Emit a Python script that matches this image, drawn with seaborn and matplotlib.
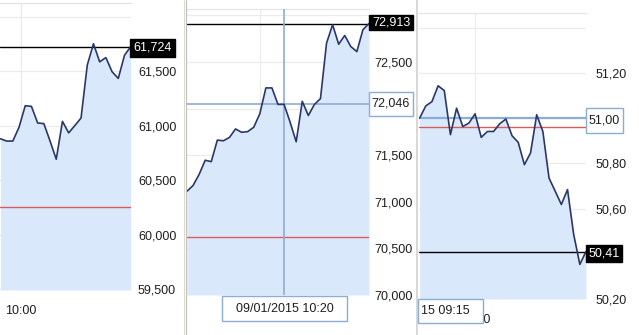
import numpy as np
import pandas as pd
import seaborn as sns
import matplotlib
matplotlib.use("Agg")
import matplotlib.pyplot as plt
from matplotlib.patches import Rectangle
from matplotlib.lines import Line2D

# ---------------- data ----------------
# Panel 1 (cropped chart, left)
p1_values = [60879, 60858, 60858, 60985, 61182, 61176, 61024, 61018, 60858, 60691,
             61039, 60933, 61000, 61070, 61555, 61751, 61585, 61624, 61494, 61433,
             61645, 61724]
p1_last = 61724
p1_ref = 60252
p1_yticks = [59500, 60000, 60500, 61000, 61500, 62000]
p1_ytick_labels = ["59,500", "60,000", "60,500", "61,000", "61,500", ""]
p1_xtick_labels = ["10:00"]
p1_last_label = "61,724"

# Panel 2 (middle)
p2_values = [71114, 71175, 71294, 71446, 71431, 71662, 71655, 71691, 71782, 71746,
             71753, 71800, 71944, 72222, 72222, 72045, 72046, 71854, 71644, 72078,
             71926, 72045, 72107, 72702, 72901, 72691, 72785, 72666, 72612, 72847,
             72913]
p2_last = 72913
p2_ref = 70618
p2_cross = 72046
p2_yticks = [70000, 70500, 71000, 71500, 72000, 72500, 73000]
p2_ytick_labels = ["70,000", "70,500", "71,000", "71,500", "", "72,500", ""]
p2_xtick_labels = [""]
p2_last_label = "72,913"
p2_cross_label = "72,046"
p2_date_label = "09/01/2015 10:20"

# Panel 3 (right)
p3_values = [51.00, 51.054, 51.073, 51.143, 51.122, 50.927, 51.044, 50.963, 50.978,
             51.019, 50.915, 50.941, 50.941, 50.975, 50.996, 50.922, 50.893, 50.794,
             50.846, 51.015, 50.941, 50.735, 50.677, 50.618, 50.684, 50.486, 50.353,
             50.41]
p3_last = 50.41
p3_ref = 50.96
p3_cross = 51.00
p3_yticks = [50.20, 50.40, 50.60, 50.80, 51.00, 51.20, 51.40]
p3_ytick_labels = ["50,20", "", "50,60", "50,80", "", "51,20", ""]
p3_xtick_labels = ["10:00"]
p3_last_label = "50,41"
p3_cross_label = "51,00"
p3_date_label = "15 09:15"

# ---------------- style ----------------
W, H = 639, 335
sns.set_style("white")
plt.rcParams["font.family"] = ["Liberation Sans", "DejaVu Sans"]

LINE = "#2a3768"
FILL = "#dae8fb"
RED = "#dc5a5a"
GRID = "#ebebeb"
CROSS = "#8cadd6"
TXT = "#1e1e1e"

fig = plt.figure(figsize=(W / 100, H / 100), dpi=100)
fig.patch.set_facecolor("white")


def add_ax(left, top, right, bottom):
    return fig.add_axes([left / W, 1 - bottom / H, (right - left) / W, (bottom - top) / H])


def fig_rect(x0, y0, x1, y1, fc, ec, lw=1.0):
    r = Rectangle((x0 / W, 1 - y1 / H), (x1 - x0) / W, (y1 - y0) / H,
                  transform=fig.transFigure, facecolor=fc, edgecolor=ec,
                  linewidth=lw, zorder=10)
    fig.add_artist(r)


def fig_text(x, y, s, color, ha="center"):
    fig.text(x / W, 1 - y / H, s, color=color, ha=ha, va="center",
             fontsize=9, zorder=11)


def draw_panel(ax, values, ylim, xlim, yticks, ylabels, xtick_pos, xlabels,
               last, ref, pad, cross_y=None, cross_x=None, cross_lw=1.2):
    df = pd.DataFrame({"i": np.arange(len(values)), "v": values})
    ax.set_facecolor("white")
    ax.fill_between(df["i"], df["v"], ylim[0], color=FILL, lw=0, zorder=1)
    sns.lineplot(data=df, x="i", y="v", ax=ax, color=LINE, lw=1.2, zorder=5)
    ax.set_ylim(*ylim)
    ax.set_xlim(*xlim)
    ax.set_yticks(yticks)
    ax.set_yticklabels(ylabels)
    ax.set_xticks(xtick_pos)
    ax.set_xticklabels(xlabels)
    ax.yaxis.tick_right()
    ax.tick_params(axis="y", length=0, pad=pad, labelsize=9, labelcolor=TXT)
    ax.tick_params(axis="x", length=0, pad=11, labelsize=9, labelcolor=TXT)
    ax.grid(True, color=GRID, lw=0.9, zorder=0)
    ax.set_axisbelow(True)
    ax.set_xlabel("")
    ax.set_ylabel("")
    for s in ["left", "right", "bottom"]:
        ax.spines[s].set_visible(False)
    ax.spines["top"].set_color("#e4e4e4")
    ax.spines["top"].set_linewidth(0.9)
    ax.axhline(ref, color=RED, lw=1.0, zorder=4)
    ax.axhline(last, color="black", lw=1.0, zorder=4)
    if cross_y is not None:
        ax.axhline(cross_y, color=CROSS, lw=cross_lw, zorder=4)
    if cross_x is not None:
        ax.axvline(cross_x, color=CROSS, lw=1.2, zorder=4)


# Panel 1
ax1 = add_ax(0, 3, 131, 290)
draw_panel(ax1, p1_values, (59491, 62125), (-0.07, 21.05), p1_yticks, p1_ytick_labels,
           [3.3], p1_xtick_labels, p1_last, p1_ref, pad=5)

# Panel 2
ax2 = add_ax(187, 9, 369, 295)
draw_panel(ax2, p2_values, (70000, 73069), (0, 30), p2_yticks, p2_ytick_labels,
           [12], p2_xtick_labels, p2_last, p2_ref, pad=4, cross_y=p2_cross, cross_x=16)

# Panel 3
ax3 = add_ax(419, 13, 586, 299)
draw_panel(ax3, p3_values, (50.20, 51.465), (-0.1, 27), p3_yticks, p3_ytick_labels,
           [9], p3_xtick_labels, p3_last, p3_ref, pad=7, cross_y=p3_cross, cross_lw=1.6)

# separators between panels
for x, c, lw in [(183.5, "#dcd9d3", 1.0), (185.5, "#c3c0ba", 1.2), (417, "#cfcfcf", 1.6)]:
    fig.add_artist(Line2D([x / W, x / W], [0, 1], color=c, lw=lw * 0.72,
                          transform=fig.transFigure, zorder=9))

# value boxes
fig_rect(130, 39, 175, 57, "black", "black")
fig_text(152.5, 48, p1_last_label, "white")

fig_rect(369, 15, 413, 30, "black", "black")
fig_text(391, 22.5, p2_last_label, "white")

fig_rect(369, 92, 413, 116, "white", CROSS)
fig_text(391, 104, p2_cross_label, TXT)

fig_rect(586, 108, 623, 133, "white", CROSS)
fig_text(604.5, 120.5, p3_cross_label, TXT)

fig_rect(586, 245, 622, 262, "black", "black")
fig_text(604, 253.5, p3_last_label, "white")

# date boxes
fig_rect(222, 296, 347, 321, "white", CROSS)
fig_text(284.5, 308.5, p2_date_label, TXT)

fig_rect(418, 299, 483, 323, "white", CROSS)
fig_text(421, 311, p3_date_label, TXT, ha="left")

fig.savefig("out.png", dpi=100, facecolor="white")
